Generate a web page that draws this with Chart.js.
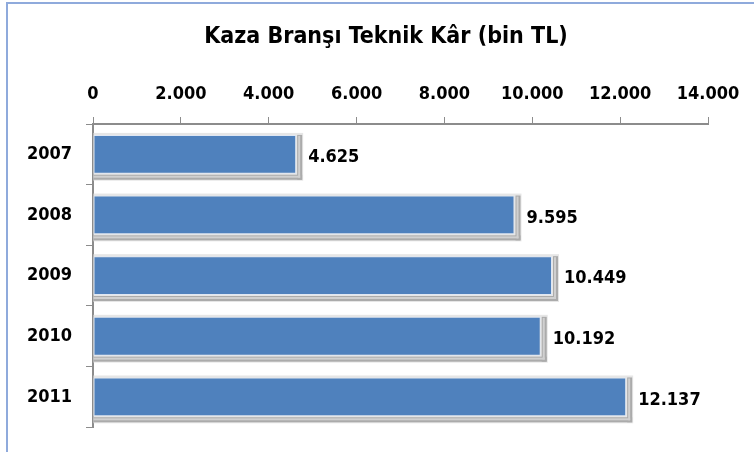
<!DOCTYPE html>
<html>
<head>
<meta charset="utf-8">
<script src="https://cdn.jsdelivr.net/npm/chart.js@4"></script>
<style>
html,body{margin:0;padding:0;background:#fff;}
#wrap{position:relative;width:754px;height:452px;}
#frame{position:absolute;left:6px;top:2px;right:-4px;bottom:-4px;border-top:2px solid #8faadc;border-left:2px solid #8faadc;pointer-events:none;}
canvas{position:absolute;left:0;top:0;}
</style>
</head>
<body>
<div id="wrap"><canvas id="c" width="754" height="452"></canvas><div id="frame"></div></div>
<script>
const categories = ['2007', '2008', '2009', '2010', '2011'];
const values = [4625, 9595, 10449, 10192, 12137];
const tickValues = [0, 2000, 4000, 6000, 8000, 10000, 12000, 14000];
const titleText = 'Kaza Branşı Teknik Kâr (bin TL)';

const FONT = "'Liberation Sans Narrow', 'DejaVu Sans Condensed', 'Arial Narrow', sans-serif";
function fmt(v){ return String(v).replace(/\B(?=(\d{3})+(?!\d))/g, '.'); }

const barDeco = {
  id: 'barDeco',
  beforeDraw(chart){
    const ctx = chart.ctx;
    ctx.save();
    ctx.font = "bold 23px " + FONT;
    ctx.fillStyle = '#000';
    ctx.textAlign = 'center';
    ctx.textBaseline = 'middle';
    ctx.fillText(titleText, 386, 37);
    ctx.restore();
  },
  beforeDatasetsDraw(chart){
    const ctx = chart.ctx;
    chart.getDatasetMeta(0).data.forEach(b => {
      const x0 = b.base, x1 = b.x, y0 = b.y - b.height/2, y1 = b.y + b.height/2;
      ctx.save();
      ctx.fillStyle = '#e6e6e6';
      ctx.fillRect(x0, y0 - 2, x1 - x0 + 7, y1 - y0 + 9);
      ctx.fillStyle = '#ababab';
      ctx.fillRect(x0, y1 + 1, x1 - x0 + 6, 5);
      ctx.fillRect(x1 + 1, y0, 5, y1 - y0 + 6);
      ctx.fillStyle = '#d0d0d0';
      ctx.fillRect(x0, y1 + 2, x1 - x0 + 4, 2);
      ctx.fillRect(x1 + 2, y0 + 1, 2, y1 - y0 + 3);
      ctx.restore();
    });
  },
  afterDatasetsDraw(chart){
    const ctx = chart.ctx;
    ctx.save();
    ctx.font = "bold 18px " + FONT;
    ctx.fillStyle = '#000';
    ctx.textAlign = 'left';
    ctx.textBaseline = 'middle';
    chart.getDatasetMeta(0).data.forEach((b, i) => {
      ctx.fillText(fmt(values[i]), b.x + 12, b.y + 3);
    });
    ctx.restore();
  }
};

new Chart(document.getElementById('c'), {
  type: 'bar',
  data: {
    labels: categories,
    datasets: [{
      data: values,
      backgroundColor: '#4f81bd',
      borderColor: '#dfe7f3',
      borderWidth: 1,
      borderSkipped: false,
      barPercentage: 0.64,
      categoryPercentage: 1.0
    }]
  },
  options: {
    indexAxis: 'y',
    responsive: false,
    animation: false,
    events: [],
    layout: { padding: { left: 0, right: 46, top: 70, bottom: 20 } },
    plugins: {
      legend: { display: false },
      tooltip: { enabled: false },
      title: { display: false }
    },
    scales: {
      x: {
        position: 'top',
        min: 0, max: 14000,
        afterBuildTicks(s){ s.ticks = tickValues.map(v => ({ value: v })); },
        afterFit(s){ s.height = 124 - 70; },
        ticks: {
          color: '#000',
          font: { family: FONT, size: 18, weight: 'bold' },
          padding: 12,
          maxRotation: 0,
          callback: v => fmt(v)
        },
        grid: { drawOnChartArea: false, drawTicks: true, tickLength: 7, color: '#8c8c8c', lineWidth: 1 },
        border: { display: true, color: '#8c8c8c', width: 2 }
      },
      y: {
        afterFit(s){ s.width = 93; },
        ticks: {
          color: '#000',
          font: { family: FONT, size: 18, weight: 'bold' },
          padding: 14
        },
        grid: { drawOnChartArea: false, drawTicks: true, tickLength: 7, offset: true, color: '#8c8c8c', lineWidth: 1 },
        border: { display: true, color: '#8c8c8c', width: 2 }
      }
    }
  },
  plugins: [barDeco]
});
</script>
</body>
</html>
